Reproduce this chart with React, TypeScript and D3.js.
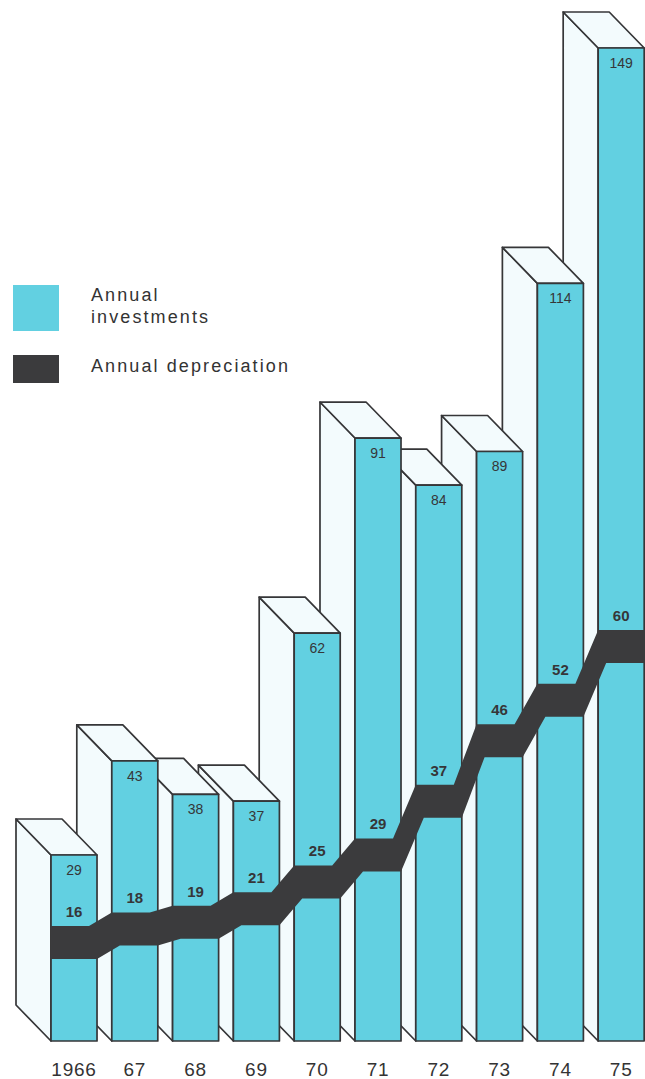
import React from "react";
import * as d3 from "d3";

const years = ["1966", "67", "68", "69", "70", "71", "72", "73", "74", "75"];
const investments = [29, 43, 38, 37, 62, 91, 84, 89, 114, 149];
const depreciation = [16, 18, 19, 21, 25, 29, 37, 46, 52, 60];
const legendLabels = [["Annual", "investments"], ["Annual depreciation"]];

const W = 645;
const H = 1079;
const CYAN = "#62d0e1";
const FACE = "#f3fbfd";
const INK = "#363638";
const BAND = "#3b3b3d";
const DX = 35;
const DY = 36;
const BASE = 1041;
const HALF = 16.5;
const K = 8;

export default function App() {
  const x = d3
    .scaleBand<string>()
    .domain(years)
    .range([51, 644.2])
    .paddingInner(0.243)
    .paddingOuter(0);
  const y = d3.scaleLinear().domain([0, 150]).range([1050, 41.25]);
  const bw = x.bandwidth();

  const bars = years.map((yr, i) => {
    const x0 = x(yr) as number;
    const yt = y(investments[i]);
    return { yr, i, x0, x1: x0 + bw, yt };
  });

  // depreciation band polygon
  const topPts: [number, number][] = [];
  const botPts: [number, number][] = [];
  bars.forEach((b, i) => {
    const c = y(depreciation[i]);
    const t = c - HALF;
    const bo = c + HALF;
    if (i === 0) {
      topPts.push([b.x0, t]);
      botPts.push([b.x0, bo]);
    } else {
      topPts.push([b.x0, t]);
      botPts.push([b.x0 + K, bo]);
    }
    if (i === bars.length - 1) {
      topPts.push([W + 2, t]);
      botPts.push([W + 2, bo]);
    } else {
      topPts.push([b.x1 - K, t]);
      botPts.push([b.x1, bo]);
    }
  });
  const bandPts = [...topPts, ...botPts.reverse()];
  const bandPath = d3.line()(bandPts) + "Z";

  const order = [...bars].reverse();

  return (
    <svg
      width={W}
      height={H}
      style={{ position: "absolute", left: 0, top: 0, background: "#fff" }}
      fontFamily="'Liberation Sans', Arial, sans-serif"
    >
      <rect width={W} height={H} fill="#fff" />
      {order.map((b) => {
        const side = [
          [b.x0 - DX, b.yt - DY],
          [b.x0, b.yt],
          [b.x0, BASE],
          [b.x0 - DX, BASE - DY],
        ];
        const top = [
          [b.x0 - DX, b.yt - DY],
          [b.x1 - DX, b.yt - DY],
          [b.x1, b.yt],
          [b.x0, b.yt],
        ];
        return (
          <g key={b.yr} stroke={INK} strokeWidth={1.7} strokeLinejoin="round">
            <path d={d3.line()(side as [number, number][]) + "Z"} fill={FACE} />
            <path d={d3.line()(top as [number, number][]) + "Z"} fill={FACE} />
            <rect x={b.x0} y={b.yt} width={bw} height={BASE - b.yt} fill={CYAN} />
          </g>
        );
      })}
      <path d={bandPath} fill={BAND} />
      {bars.map((b, i) => (
        <g key={"l" + b.yr} textAnchor="middle" fill={INK}>
          <text x={b.x0 + bw / 2} y={b.yt + 20} fontSize={14}>
            {investments[i]}
          </text>
          <text
            x={b.x0 + bw / 2}
            y={y(depreciation[i]) - HALF - 9}
            fontSize={15}
            fontWeight="bold"
          >
            {depreciation[i]}
          </text>
          <text
            x={b.x0 + bw / 2}
            y={1076}
            fontSize={19}
            letterSpacing={0.8}
            fill="#333"
          >
            {b.yr}
          </text>
        </g>
      ))}
      <g>
        <rect x={13} y={285} width={46} height={46} fill={CYAN} />
        <rect x={13} y={355} width={46} height={28} fill={BAND} />
        <g fill="#333" fontSize={18} letterSpacing={2.1}>
          <text x={91} y={301}>{legendLabels[0][0]}</text>
          <text x={91} y={323}>{legendLabels[0][1]}</text>
          <text x={91} y={372}>{legendLabels[1][0]}</text>
        </g>
      </g>
    </svg>
  );
}
